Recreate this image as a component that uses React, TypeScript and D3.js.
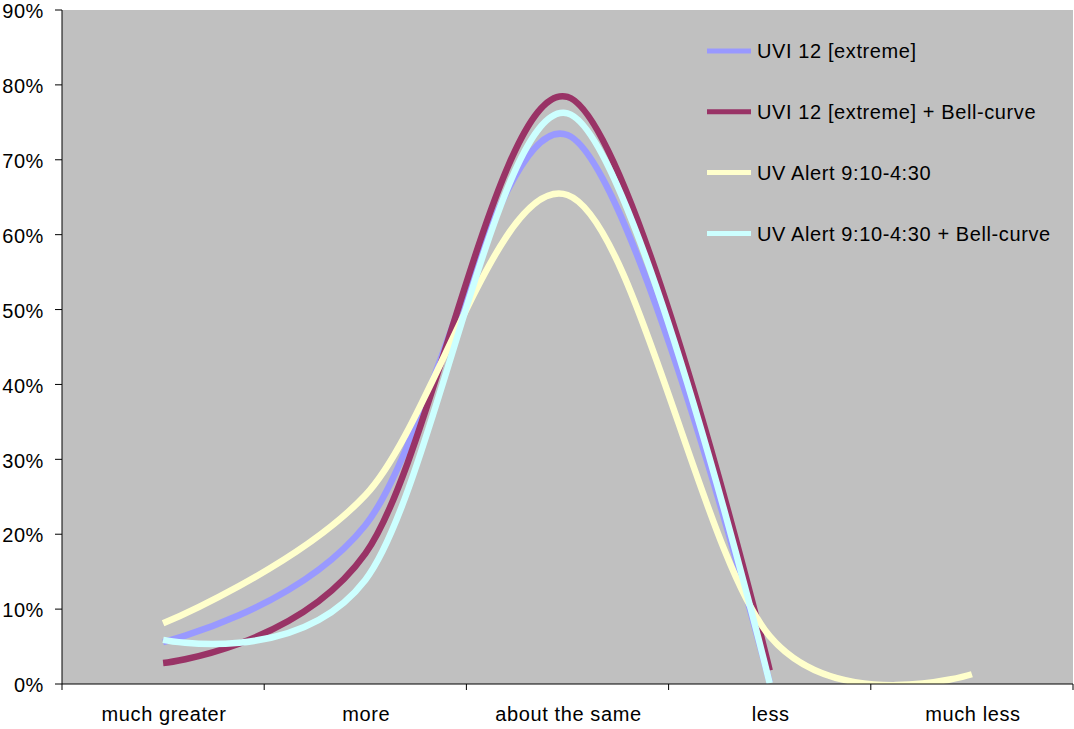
import React from "react";
import * as d3 from "d3";

const categories = ["much greater", "more", "about the same", "less", "much less"];
const uvi12 = [5.6, 21.2, 73.3, 0.2];
const uvi12Bell = [2.8, 17.4, 78.4, 1.8];
const uvAlert = [8.1, 25.2, 65.3, 6.4, 1.3];
const uvAlertBell = [5.9, 13.9, 76.2, 0.1];
const seriesNames = [
  "UVI 12 [extreme]",
  "UVI 12 [extreme] + Bell-curve",
  "UV Alert 9:10-4:30",
  "UV Alert 9:10-4:30 + Bell-curve",
];
const seriesColors = ["#9999FF", "#993366", "#FFFFCC", "#CCFFFF"];
const yTicks = [0, 10, 20, 30, 40, 50, 60, 70, 80, 90];

const W = 1074;
const H = 729;
const left = 62;
const right = 1073;
const top = 10;
const bottom = 684;

export default function App() {
  const x = d3.scaleBand<string>().domain(categories).range([left, right]).padding(0);
  const y = d3.scaleLinear().domain([0, 90]).range([bottom, top]);
  const cx = (c: string) => (x(c) ?? 0) + x.bandwidth() / 2;

  // smoothed line through the category points
  const line = d3
    .line<number>()
    .x((_, i) => cx(categories[i]))
    .y((v) => y(v))
    .curve(d3.curveCardinal.tension(0));

  const series = [uvi12, uvi12Bell, uvAlert, uvAlertBell];
  const font = "'Liberation Sans', Arial, sans-serif";
  const boundaries = [...categories.map((c) => x(c) ?? 0), right];
  const fs = 20;
  const ls = 0.6;

  return (
    <svg
      width={W}
      height={H}
      style={{ position: "absolute", left: 0, top: 0, background: "#fff" }}
      fontFamily={font}
    >
      <rect x={left} y={top} width={right - left} height={bottom - top} fill="#C0C0C0" />
      <defs>
        <clipPath id="plot">
          <rect x={left} y={top} width={right - left} height={bottom - top} />
        </clipPath>
      </defs>
      <g clipPath="url(#plot)">
        {series.map((s, i) => (
          <path
            key={i}
            d={line(s) ?? ""}
            fill="none"
            stroke={seriesColors[i]}
            strokeWidth={6.5}
            strokeLinejoin="round"
          />
        ))}
      </g>
      {/* y axis */}
      <line x1={left} x2={left} y1={top} y2={bottom} stroke="#000" strokeWidth={1} />
      {yTicks.map((t) => (
        <g key={t}>
          <line x1={left - 7} x2={left} y1={y(t)} y2={y(t)} stroke="#000" />
          <text
            x={44}
            y={y(t) + 8.2}
            textAnchor="end"
            fontSize={fs}
            letterSpacing={ls}
            fill="#000"
          >
            {t}%
          </text>
        </g>
      ))}
      {/* x axis */}
      <line x1={left} x2={right} y1={bottom} y2={bottom} stroke="#000" />
      {boundaries.map((b, i) => (
        <line key={i} x1={b} x2={b} y1={bottom} y2={bottom + 6} stroke="#000" />
      ))}
      {categories.map((c) => (
        <text
          key={c}
          x={cx(c) + 1}
          y={721}
          textAnchor="middle"
          fontSize={fs}
          letterSpacing={ls}
          fill="#000"
        >
          {c}
        </text>
      ))}
      {/* legend */}
      {seriesNames.map((n, i) => {
        const ly = 51 + i * 60.8;
        return (
          <g key={n}>
            <line x1={707} x2={751} y1={ly} y2={ly} stroke={seriesColors[i]} strokeWidth={5} />
            <text x={757} y={ly + 7.2} fontSize={fs} letterSpacing={ls} fill="#000">
              {n}
            </text>
          </g>
        );
      })}
    </svg>
  );
}
